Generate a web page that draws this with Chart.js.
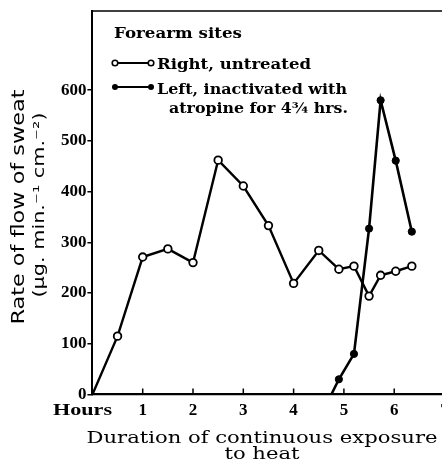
<!DOCTYPE html>
<html>
<head>
<meta charset="utf-8">
<script src="https://cdn.jsdelivr.net/npm/chart.js@4.4.0/dist/chart.umd.min.js"></script>
<style>
html,body{margin:0;padding:0;background:#fff;overflow:hidden;width:442px;height:463px;}
#wrap{position:absolute;left:0;top:0;width:442px;height:463px;}
canvas{display:block;}
</style>
</head>
<body>
<div id="wrap"><canvas id="c" width="442" height="463"></canvas></div>
<script>
// ---- data ----
const rightHours = [0, 0.5, 1, 1.5, 2, 2.5, 3, 3.5, 4, 4.5, 4.9, 5.2, 5.5, 5.73, 6.03, 6.35];
const rightRate  = [0, 115, 271, 287, 260, 462, 411, 333, 219, 284, 247, 253, 194, 235, 243, 253];
const leftHours  = [4.75, 4.9, 5.2, 5.5, 5.73, 6.03, 6.35];
const leftRate   = [0, 30, 80, 327, 580, 461, 321];
const yTicks = [0, 100, 200, 300, 400, 500, 600];
const xTicks = [1, 2, 3, 4, 5, 6];
const xEdgeTick = 7;      // tick label cut by the right edge of the picture
const xMax = 6.95;        // visible end of the hours axis
const legendTitle = 'Forearm sites';
const rightLabel = 'Right, untreated';
const leftLabel = ['Left, inactivated with', 'atropine for 4\u00BE hrs.'];
const yTitle = ['Rate of flow of sweat', '(\u03BCg. min.\u207B\u00B9 cm.\u207B\u00B2)'];
const xTitle = ['Duration of continuous exposure', 'to heat'];
const xOriginLabel = 'Hours';

const pts = (xs, ys) => xs.map((x, i) => ({x: x, y: ys[i]}));
const tickFont = 'bold 17px "Liberation Serif"';

function fitText(ctx, text, cx, cy, w, font, align, rot) {
  ctx.save();
  ctx.font = font;
  const m = ctx.measureText(text).width;
  const sx = w / m;
  ctx.translate(cx, cy);
  if (rot) ctx.rotate(rot);
  ctx.scale(sx, 1);
  ctx.textAlign = align || 'left';
  ctx.fillText(text, 0, 0);
  ctx.restore();
}

const deco = {
  id: 'deco',
  afterDraw(chart) {
    const ctx = chart.ctx;
    const a = chart.chartArea;
    const xs = chart.scales.x;
    ctx.save();
    ctx.strokeStyle = '#000';
    ctx.fillStyle = '#000';
    // top frame
    ctx.lineWidth = 1.5;
    ctx.beginPath(); ctx.moveTo(a.left, a.top); ctx.lineTo(chart.width + 2, a.top); ctx.stroke();
    // inward x ticks
    ctx.lineWidth = 1.5;
    xTicks.forEach(v => {
      const px = xs.getPixelForValue(v);
      ctx.beginPath(); ctx.moveTo(px, a.bottom); ctx.lineTo(px, a.bottom - 6); ctx.stroke();
    });
    // edge tick label
    ctx.font = tickFont;
    ctx.textAlign = 'center';
    ctx.textBaseline = 'alphabetic';
    ctx.fillText(String(xEdgeTick), xs.getPixelForValue(xEdgeTick), 415);
    // Hours label
    fitText(ctx, xOriginLabel, 53, 415, 59, tickFont, 'left');
    // x title
    const xf = '17px "DejaVu Serif"';
    ctx.font = xf;
    const w1 = ctx.measureText(xTitle[0]).width;
    const sx = 351 / w1;
    fitText(ctx, xTitle[0], 262, 443, 351, xf, 'center');
    ctx.font = xf;
    const w2 = ctx.measureText(xTitle[1]).width * sx;
    fitText(ctx, xTitle[1], 262, 459, w2, xf, 'center');
    // y title (rotated)
    ctx.textBaseline = 'middle';
    fitText(ctx, yTitle[0], 20, 207, 235, '17px "DejaVu Sans"', 'center', -Math.PI / 2);
    fitText(ctx, yTitle[1], 40, 205, 185, '16px "DejaVu Sans"', 'center', -Math.PI / 2);
    // legend
    ctx.textBaseline = 'alphabetic';
    const lf = 'bold 15px "DejaVu Serif"';
    fitText(ctx, legendTitle, 114, 38, 128, lf, 'left');
    ctx.lineWidth = 2;
    ctx.beginPath(); ctx.moveTo(115, 63); ctx.lineTo(151, 63); ctx.stroke();
    [115, 151].forEach(px => {
      ctx.beginPath(); ctx.arc(px, 63, 2.8, 0, Math.PI * 2);
      ctx.fillStyle = '#fff'; ctx.fill(); ctx.lineWidth = 1.6; ctx.stroke();
    });
    ctx.fillStyle = '#000';
    fitText(ctx, rightLabel, 157, 69, 154, lf, 'left');
    ctx.lineWidth = 2;
    ctx.beginPath(); ctx.moveTo(115, 87); ctx.lineTo(151, 87); ctx.stroke();
    [115, 151].forEach(px => {
      ctx.beginPath(); ctx.arc(px, 87, 3, 0, Math.PI * 2); ctx.fill();
    });
    fitText(ctx, leftLabel[0], 157, 94, 190, lf, 'left');
    fitText(ctx, leftLabel[1], 169, 113, 179, lf, 'left');
    ctx.restore();
  }
};

new Chart(document.getElementById('c'), {
  type: 'line',
  data: {
    datasets: [
      {
        label: rightLabel,
        data: pts(rightHours, rightRate),
        borderColor: '#000',
        borderWidth: 2.4,
        pointRadius: rightHours.map((h, i) => i === 0 ? 0 : 3.8),
        pointBackgroundColor: '#fff',
        pointBorderColor: '#000',
        pointBorderWidth: 1.8,
        tension: 0,
        fill: false
      },
      {
        label: leftLabel.join(' '),
        data: pts(leftHours, leftRate),
        borderColor: '#000',
        borderWidth: 2.6,
        pointRadius: leftHours.map((h, i) => i === 0 ? 0 : 3.6),
        pointBackgroundColor: '#000',
        pointBorderColor: '#000',
        pointBorderWidth: 1,
        tension: 0,
        fill: false
      }
    ]
  },
  options: {
    responsive: false,
    animation: false,
    events: [],
    layout: { autoPadding: false, padding: { top: 11, right: 0, left: 0, bottom: 0 } },
    plugins: { legend: { display: false }, tooltip: { enabled: false } },
    scales: {
      x: {
        type: 'linear',
        min: 0, max: xMax,
        afterBuildTicks: s => { s.ticks = xTicks.map(v => ({value: v})); },
        afterFit: s => { s.height = 68.5; s.paddingLeft = 0; s.paddingRight = 0; },
        ticks: {
          color: '#000',
          font: { family: 'Liberation Serif', weight: 'bold', size: 17 },
          padding: 6,
          maxRotation: 0,
          autoSkip: false,
          callback: v => String(v)
        },
        grid: { display: false, drawTicks: false, drawOnChartArea: false },
        border: { display: true, color: '#000', width: 2.2 }
      },
      y: {
        type: 'linear',
        min: 0, max: 756,
        afterBuildTicks: s => { s.ticks = yTicks.map(v => ({value: v})); },
        afterFit: s => { s.width = 92.4; s.paddingTop = 0; s.paddingBottom = 0; },
        ticks: {
          color: '#000',
          font: { family: 'Liberation Serif', weight: 'bold', size: 17 },
          padding: 1,
          autoSkip: false,
          callback: v => String(v)
        },
        grid: { display: true, drawOnChartArea: false, drawTicks: true, tickLength: 5, color: '#000', lineWidth: 1.5 },
        border: { display: true, color: '#000', width: 2 }
      }
    }
  },
  plugins: [deco]
});
</script>
</body>
</html>
